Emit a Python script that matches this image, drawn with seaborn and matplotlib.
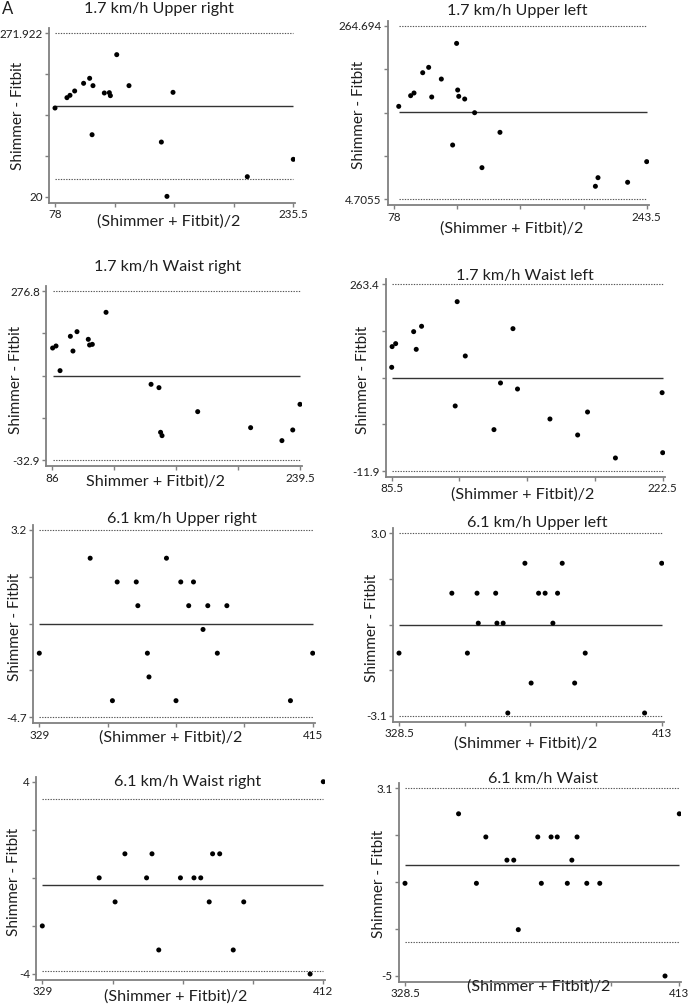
import numpy as np
import pandas as pd
import matplotlib
matplotlib.use("Agg")
import matplotlib.pyplot as plt
import seaborn as sns

# ---- data (Bland-Altman: mean vs difference) ----
# 1.7 km/h upper right
ur17_x = [78, 85.9, 87.9, 91.0, 96.9, 100.9, 103.1, 102.5, 110.6, 113.9, 114.6, 118.8, 126.9, 148.3, 152.0, 156.0, 205.1, 235.5]
ur17_y = [156.5, 172.4, 176.0, 182.7, 194.5, 202.2, 190.9, 115.4, 179.6, 180.1, 175.5, 238.6, 190.9, 104.1, 20.5, 180.6, 50.8, 77.5]
# 1.7 km/h upper left
ul17_x = [81.1, 88.9, 91.1, 96.8, 100.7, 102.7, 109.0, 116.4, 119.0, 119.7, 120.4, 124.3, 130.8, 135.6, 147.4, 209.9, 211.6, 231.0, 243.5]
ul17_y = [143.9, 159.9, 163.9, 194.3, 202.3, 157.9, 184.8, 86.0, 238.2, 168.4, 158.9, 154.9, 134.4, 52.1, 105.0, 24.2, 37.1, 30.2, 61.1]
# 1.7 km/h waist right
wr17_x = [86.2, 88.3, 90.8, 97.2, 98.8, 101.3, 108.3, 109.1, 110.8, 119.3, 147.2, 152.1, 153.1, 154.0, 176.1, 208.9, 228.3, 235.0, 239.5]
wr17_y = [172.5, 176.2, 131.1, 193.9, 167.0, 202.4, 188.4, 178.0, 179.2, 237.8, 106.1, 100.0, 18.3, 12.2, 56.1, 26.8, 3.1, 22.6, 69.5]
# 1.7 km/h waist left
wl17_x = [85.5, 85.7, 87.5, 96.6, 97.9, 100.6, 117.6, 118.6, 122.7, 137.2, 140.5, 146.8, 149.1, 165.5, 179.5, 184.5, 198.6, 222.2, 222.5]
wl17_y = [141.0, 171.5, 175.9, 193.6, 167.5, 201.5, 84.0, 237.8, 157.7, 49.1, 117.9, 198.0, 109.0, 64.8, 41.2, 75.1, 7.3, 103.6, 15.1]
# 6.1 km/h upper right
ur61_x = [329, 345, 352, 353.5, 359.5, 360, 363, 363.5, 369, 372, 373.5, 376, 377.5, 380.5, 382, 385, 388, 408, 415]
ur61_y = [-2, 2, -4, 1, 1, 0, -2, -3, 2, -4, 1, 0, 1, -1, 0, -2, 0, -4, -2]
# 6.1 km/h upper left
ul61_x = [328.5, 345.5, 350.5, 353.6, 354.0, 359.6, 360.0, 362.0, 363.5, 369.0, 371.0, 373.4, 375.5, 378.0, 379.5, 381.0, 385.0, 388.4, 407.5, 413]
ul61_y = [-1, 1, -1, 1, 0, 1, 0, 0, -3, 2, -2, 1, 1, 0, 1, 2, -2, -1, -3, 2]
# 6.1 km/h waist right
wr61_x = [329, 345.8, 350.5, 353.4, 359.8, 361.4, 363.4, 369.8, 373.8, 375.8, 378.3, 379.3, 381.4, 385.4, 388.5, 408.1, 412]
wr61_y = [-2, 0, -1, 1, 0, 1, -3, 0, 0, 0, -1, 1, 1, -3, -1, -4, 4]
# 6.1 km/h waist
w61_x = [328.5, 345.0, 350.5, 353.4, 359.9, 362.0, 363.4, 369.4, 370.5, 373.5, 375.4, 378.5, 379.9, 381.5, 384.5, 388.5, 408.6, 413]
w61_y = [-1, 2, -1, 1, 0, 0, -3, 1, -1, 1, 1, -1, 0, 1, -1, -1, -5, 2]

titles = ["1.7 km/h Upper right", "1.7 km/h Upper left", "1.7 km/h Waist right", "1.7 km/h Waist left",
          "6.1 km/h Upper right", "6.1 km/h Upper left", "6.1 km/h Waist right", "6.1 km/h Waist"]
xlabels = ["(Shimmer + Fitbit)/2", "(Shimmer + Fitbit)/2", "Shimmer + Fitbit)/2", "(Shimmer + Fitbit)/2",
           "(Shimmer + Fitbit)/2", "(Shimmer + Fitbit)/2", "(Shimmer + Fitbit)/2", "(Shimmer + Fitbit)/2"]
# mean difference and limits of agreement
means = [159.3, 134.7, 121.95, 125.75, -0.75, -0.05, -0.3, -0.22]
upper_loa = [271.922, 264.694, 276.8, 263.4, 3.2, 3.0, 3.27, 3.1]
lower_loa = [46.7, 4.7055, -32.9, -11.9, -4.7, -3.1, -3.87, -3.55]
# axis tick extents and labels
x_ticks_lo = [78, 78, 86, 85.5, 329, 328.5, 329, 328.5]
x_ticks_hi = [235.5, 243.5, 239.5, 222.5, 415, 413, 412, 413]
x_ticklabels = [("78", "235.5"), ("78", "243.5"), ("86", "239.5"), ("85.5", "222.5"),
                ("329", "415"), ("328.5", "413"), ("329", "412"), ("328.5", "413")]
y_ticks_lo = [20, 4.7055, -32.9, -11.9, -4.7, -3.1, -4, -5]
y_ticks_hi = [271.922, 264.694, 276.8, 263.4, 3.2, 3.0, 4, 3.1]
y_ticklabels = [("20", "271.922"), ("4.7055", "264.694"), ("-32.9", "276.8"), ("-11.9", "263.4"),
                ("-4.7", "3.2"), ("-3.1", "3.0"), ("-4", "4"), ("-5", "3.1")]

xs = [ur17_x, ul17_x, wr17_x, wl17_x, ur61_x, ul61_x, wr61_x, w61_x]
ys = [ur17_y, ul17_y, wr17_y, wl17_y, ur61_y, ul61_y, wr61_y, w61_y]

# ---- layout (pixels): x of first/last tick, y of top/bottom tick ----
boxes = [(55, 293.3, 33, 196.7), (394, 646.7, 25.7, 199.3),
         (52.3, 300, 291, 460.3), (391.7, 662.7, 284.3, 471),
         (39.3, 312.7, 529.7, 717.3), (399, 661.7, 533.3, 716),
         (42.3, 323.3, 781.7, 974), (405, 679.3, 788.3, 976)]
title_pos = [(158.7, 9), (517.7, 11), (167.5, 267), (524.5, 276),
             (182, 518.5), (537.5, 523.5), (187.5, 782), (542.5, 778.5)]
xlabel_pos = [(169, 222), (511.7, 229), (156, 482), (522.5, 495),
              (171, 738), (525.8, 744), (176, 997), (539, 987)]
ylabel_pos = [(18.3, 116), (359, 115), (16, 380), (363.3, 380),
              (15, 627), (371.7, 628), (14, 882), (379, 884)]

sns.set_style("ticks")
plt.rcParams['font.family'] = ['Lato', 'DejaVu Sans']

W, H = 691, 1006
fig = plt.figure(figsize=(W / 100, H / 100), dpi=100)
spine_col = '#808080'
txt_col = '#1e1e1e'

for i in range(8):
    x0, x1, yt, yb = boxes[i]
    l, r, t, b = x0 - 6, x1 + 2, yt - 5, yb + 6
    ax = fig.add_axes([l / W, 1 - b / H, (r - l) / W, (b - t) / H])
    xlo, xhi = x_ticks_lo[i], x_ticks_hi[i]
    ylo, yhi = y_ticks_lo[i], y_ticks_hi[i]
    sx = (xhi - xlo) / (x1 - x0)
    sy = (yhi - ylo) / (yb - yt)
    ax.set_xlim(xlo - 6 * sx, xhi + 2 * sx)
    ax.set_ylim(ylo - 6 * sy, yhi + 5 * sy)

    df = pd.DataFrame({'avg': xs[i], 'diff': ys[i]})
    xmin, xmax = min(xs[i]), max(xs[i])
    ax.hlines([upper_loa[i], lower_loa[i]], xmin, xmax, colors='#555555',
              linestyles=(0, (1.2, 1.2)), linewidth=0.8, zorder=1)
    ax.hlines(means[i], xmin, xmax, colors='#333333', linewidth=1.0, zorder=1)
    sns.scatterplot(data=df, x='avg', y='diff', ax=ax, color='black', s=13,
                    edgecolor='none', linewidth=0, zorder=3, legend=False)

    ax.set_xticks(np.linspace(xlo, xhi, 5))
    ax.set_xticklabels([x_ticklabels[i][0], '', '', '', x_ticklabels[i][1]])
    ax.set_yticks(np.linspace(ylo, yhi, 5))
    ax.set_yticklabels([y_ticklabels[i][0], '', '', '', y_ticklabels[i][1]])
    ax.tick_params(axis='both', direction='out', length=3, width=1, color=spine_col,
                   labelsize=8.4, labelcolor=txt_col, pad=1.5)
    ax.set_xlabel('')
    ax.set_ylabel('')
    sns.despine(ax=ax)
    for s in ['left', 'bottom']:
        ax.spines[s].set_color(spine_col)
        ax.spines[s].set_linewidth(1.3)

    fig.text(title_pos[i][0] / W, 1 - title_pos[i][1] / H, titles[i],
             ha='center', va='center', fontsize=11.6, color=txt_col)
    fig.text(xlabel_pos[i][0] / W, 1 - xlabel_pos[i][1] / H, xlabels[i],
             ha='center', va='center', fontsize=11.6, color=txt_col)
    fig.text(ylabel_pos[i][0] / W, 1 - ylabel_pos[i][1] / H, "Shimmer - Fitbit",
             ha='center', va='center', rotation=90, fontsize=11, color=txt_col)

fig.text(8 / W, 1 - 9 / H, "A", ha='center', va='center', fontsize=12, color=txt_col)

fig.savefig('out.png', dpi=100)
